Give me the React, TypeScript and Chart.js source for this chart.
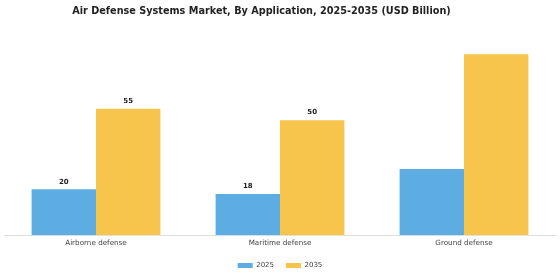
import React, { useEffect, useRef } from "react";
import { Chart, registerables } from "chart.js";

Chart.register(...registerables);

const categories = ["Airborne defense", "Maritime defense", "Ground defense"];
const series2025 = [20, 18, 28.8];
const series2035 = [55, 50, 78.6];
const labelShown = [true, true, false];
const seriesNames = ["2025", "2035"];
const titleText = "Air Defense Systems Market, By Application, 2025-2035 (USD Billion)";

const FONT = "'DejaVu Sans', sans-serif";

const valueLabels = {
  id: "valueLabels",
  afterDatasetsDraw(chart: any) {
    const ctx = chart.ctx;
    ctx.save();
    ctx.font = `bold 7px ${FONT}`;
    ctx.fillStyle = "#222";
    ctx.textAlign = "center";
    ctx.textBaseline = "bottom";
    chart.data.datasets.forEach((ds: any, di: number) => {
      const meta = chart.getDatasetMeta(di);
      meta.data.forEach((el: any, i: number) => {
        if (!labelShown[i]) return;
        ctx.fillText(String(ds.data[i]), el.x, el.y - 4);
      });
    });
    ctx.restore();
  },
};

const titleDraw = {
  id: "titleDraw",
  afterDraw(chart: any) {
    const ctx = chart.ctx;
    ctx.save();
    ctx.font = `bold 9.7px ${FONT}`;
    ctx.fillStyle = "#222";
    ctx.textAlign = "center";
    ctx.textBaseline = "middle";
    ctx.fillText(titleText, 261.5, 11);
    ctx.restore();
  },
};

export default function App() {
  const ref = useRef<HTMLCanvasElement | null>(null);
  useEffect(() => {
    if (!ref.current) return;
    const chart = new Chart(ref.current, {
      type: "bar",
      data: {
        labels: categories,
        datasets: [
          {
            label: seriesNames[0],
            data: series2025,
            backgroundColor: "#5DADE2",
            categoryPercentage: 0.7,
            barPercentage: 1,
          },
          {
            label: seriesNames[1],
            data: series2035,
            backgroundColor: "#F7C44C",
            categoryPercentage: 0.7,
            barPercentage: 1,
          },
        ],
      },
      options: {
        animation: false,
        responsive: false,
        maintainAspectRatio: false,
        layout: { padding: { left: 4, right: 4, top: 39.5, bottom: 1 } },
        plugins: {
          title: { display: false },
          legend: {
            position: "bottom",
            labels: {
              boxWidth: 15,
              boxHeight: 5,
              color: "#444",
              padding: 12,
              font: { family: FONT, size: 7 },
            },
          },
          tooltip: { enabled: false },
        },
        scales: {
          x: {
            grid: { display: false, drawTicks: false },
            border: { display: true, color: "#e0e0e0" },
            ticks: { color: "#444", font: { family: FONT, size: 7.2 }, padding: 3 },
          },
          y: {
            display: false,
            min: 0,
            max: 85,
          },
        },
      },
      plugins: [valueLabels, titleDraw],
    });
    return () => chart.destroy();
  }, []);
  return (
    <div style={{ position: "fixed", left: 0, top: 0, width: 560, height: 280, background: "#fff" }}>
      <canvas ref={ref} width={560} height={280} />
    </div>
  );
}
